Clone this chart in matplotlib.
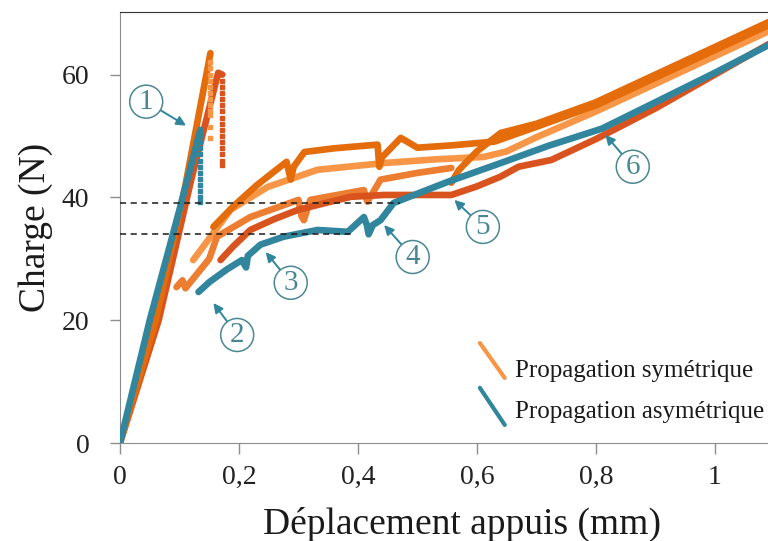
import matplotlib.pyplot as plt
import numpy as np

plt.rcParams['font.family'] = ['Liberation Serif', 'DejaVu Serif']

# courbe asymetrique (bleu)
teal_x = [0, 0.05, 0.10, 0.135]
teal_y = [0, 20, 38, 51]
teal_drop_y = [50, 49, 48, 47, 46, 45, 44, 43, 42, 41, 40, 39.3]
teal2_x = [0.132, 0.15, 0.18, 0.205, 0.212, 0.215, 0.236, 0.275, 0.332, 0.383, 0.41,
           0.415, 0.418, 0.425, 0.438, 0.46, 0.55, 0.64, 0.72, 0.81, 0.9, 1.0, 1.1]
teal2_y = [24.6, 26.2, 28.3, 29.8, 28.6, 30.5, 32.3, 33.6, 34.7, 34.4, 36.8,
           35.5, 34, 35.5, 36.3, 39.1, 42.5, 45.6, 48.4, 51.2, 55.5, 60.3, 65.3]

# courbes symetriques (orange)
a_x = [0, 0.06, 0.11, 0.152]
a_y = [0, 20, 42, 63.5]
a_drop_y = [62, 61, 60, 59, 58, 57, 56, 55, 54, 53.5, 51.5, 49.7]
a2_x = [0.157, 0.19, 0.23, 0.28, 0.287, 0.292, 0.31, 0.36, 0.433, 0.436, 0.44, 0.472,
        0.5, 0.56, 0.63, 0.7, 0.8, 0.9, 1.0, 1.1]
a2_y = [35.2, 38.5, 42, 45.8, 42.9, 45, 47.4, 48, 48.6, 45, 46.5, 49.7,
        48.1, 48.5, 49.1, 51.5, 55, 59.5, 64, 68.5]

r_x = [0, 0.065, 0.12, 0.165, 0.172]
r_y = [0, 20, 43, 60.3, 60]
r_drop_y = [59, 58, 57, 56, 55, 54, 53, 52, 51, 50, 49, 48, 47, 46, 45.3]
r2_x = [0.169, 0.19, 0.219, 0.26, 0.3, 0.35, 0.388, 0.444, 0.5, 0.557, 0.6, 0.64,
        0.67, 0.725, 0.8, 0.9, 1.0, 1.1]
r2_y = [29.8, 32, 34.7, 36.5, 38, 39.2, 40.1, 40.4, 40.4, 40.4, 41.8, 43.4,
        45, 46.1, 49.5, 54.5, 60, 65.5]

b_x = [0.123, 0.14, 0.186, 0.248, 0.332, 0.444, 0.53, 0.612, 0.65, 0.7, 0.8, 0.9, 1.0, 1.1]
b_y = [29.8, 32, 38, 41.7, 44.5, 45.6, 46.2, 46.6, 47.5, 49.8, 54, 58.5, 63, 67.5]

c_x = [0.095, 0.105, 0.11, 0.125, 0.15, 0.163, 0.219, 0.3, 0.305, 0.309, 0.32, 0.41,
       0.414, 0.416, 0.438, 0.5, 0.557]
c_y = [25.4, 26.5, 25.2, 27, 30, 33.6, 36.8, 39.6, 37, 36.3, 39.6, 41.2,
       39.8, 39.3, 42.9, 44, 44.8]

d_x = [0.557, 0.57, 0.6, 0.64, 0.7, 0.8, 0.9, 1.0, 1.1]
d_y = [42.4, 44.5, 47.5, 50.5, 52, 55.5, 60, 64.5, 69]

# lignes pointillees horizontales
dash_y = [39.1, 34.1]
dash_xmax = [0.47, 0.39]

# reperes numerotes
labels = ['1', '2', '3', '4', '5', '6']
lab_xy = [(0.044, 55.6), (0.197, 17.6), (0.287, 26.1), (0.492, 30.3), (0.61, 35.2), (0.862, 45.0)]
tip_xy = [(0.111, 51.7), (0.157, 22.8), (0.245, 31.1), (0.444, 35.5), (0.562, 39.6), (0.816, 50.2)]

teal = '#31859c'
orange = '#e46c0a'
orange2 = '#ed7d31'
light = '#f79646'
red = '#d9531e'
numcol = '#4a8793'

fig = plt.figure(figsize=(7.68, 5.41), dpi=100)
ax = fig.add_axes([0.15625, 0.1811, 0.852, 0.7967])

lw = 4.8
ms = 3.2
ax.plot(b_x, b_y, color=light, lw=lw, solid_capstyle='round', zorder=2)
ax.plot(c_x, c_y, color=orange2, lw=lw, solid_capstyle='round', zorder=2)
ax.plot(d_x, d_y, color=orange, lw=lw, solid_capstyle='round', zorder=2)
ax.plot(a2_x, a2_y, color=orange, lw=lw, solid_capstyle='round', zorder=2)
ax.plot(r2_x, r2_y, color=red, lw=lw, solid_capstyle='round', zorder=2)
ax.plot(r_x, r_y, color=red, lw=lw, solid_capstyle='round', zorder=2)
ax.plot([r_x[-1]] * len(r_drop_y), r_drop_y, 's', color=red, ms=ms, zorder=2)
ax.plot(a_x, a_y, color=orange, lw=lw, solid_capstyle='round', zorder=2)
ax.plot([a_x[-1]] * len(a_drop_y), a_drop_y, 's', color=light, ms=ms, zorder=2)
ax.plot(teal_x, teal_y, color=teal, lw=lw, solid_capstyle='round', zorder=3)
ax.plot([teal_x[-1]] * len(teal_drop_y), teal_drop_y, 's', color=teal, ms=ms, zorder=3)
ax.plot(teal2_x, teal2_y, color=teal, lw=lw, solid_capstyle='round', zorder=3)

for yv, xm in zip(dash_y, dash_xmax):
    ax.plot([0, xm], [yv, yv], color='#1a1a1a', lw=1.1, ls=(0, (4, 3)), zorder=4)

for lab, (lx, ly), (tx, ty) in zip(labels, lab_xy, tip_xy):
    ax.annotate(lab, xy=(tx, ty), xytext=(lx, ly), fontsize=21, color=numcol,
                ha='center', va='center', zorder=5,
                bbox=dict(boxstyle='circle,pad=0.12', fc='white', ec=numcol, lw=1.1),
                arrowprops=dict(arrowstyle='-|>', color=teal, lw=1.4,
                                mutation_scale=14, shrinkA=0, shrinkB=0))

# legende
ax.plot([0.550, 0.588], [0.232, 0.151], transform=ax.transAxes, color=light, lw=3,
        solid_capstyle='round')
ax.plot([0.550, 0.588], [0.128, 0.042], transform=ax.transAxes, color=teal, lw=3,
        solid_capstyle='round')
ax.text(0.603, 0.153, 'Propagation symétrique', transform=ax.transAxes,
        fontsize=18, va='baseline', color='#1a1a1a')
ax.text(0.603, 0.058, 'Propagation asymétrique', transform=ax.transAxes,
        fontsize=18, va='baseline', color='#1a1a1a')

ax.set_xlim(0, 1.1)
ax.set_ylim(0, 70.2)
ax.set_xticks([0, 0.2, 0.4, 0.6, 0.8, 1.0])
ax.set_xticklabels(['0', '0,2', '0,4', '0,6', '0,8', '1'])
ax.set_yticks([0, 20, 40, 60])
ax.tick_params(axis='both', labelsize=20, colors='#8c8c8c', labelcolor='#222222',
               width=1, direction='out')
ax.tick_params(axis='x', pad=8, length=8)
ax.tick_params(axis='y', pad=15, length=7)
ax.spines['right'].set_visible(False)
ax.spines['left'].set_color('#8c8c8c')
ax.spines['bottom'].set_color('#8c8c8c')
ax.spines['top'].set_color('#333333')
ax.set_xlabel('Déplacement appuis (mm)', fontsize=27, color='#1a1a1a')
ax.xaxis.set_label_coords(0.523, -0.147)
ax.set_ylabel('Charge (N)', fontsize=27, color='#1a1a1a', labelpad=6)

fig.savefig('out.png', dpi=100)
